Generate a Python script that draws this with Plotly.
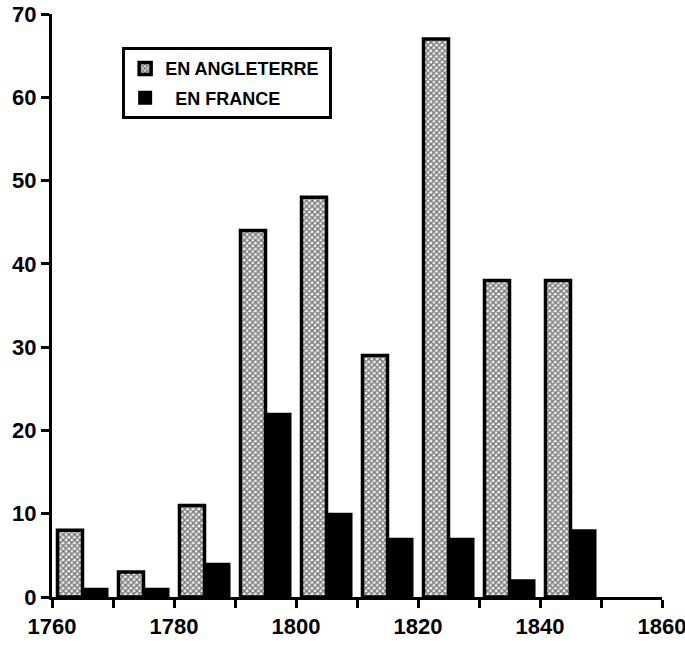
import plotly.graph_objects as go

decades = [1765, 1775, 1785, 1795, 1805, 1815, 1825, 1835, 1845]
angleterre = [8, 3, 11, 44, 48, 29, 67, 38, 38]
france = [1, 1, 4, 22, 10, 7, 7, 2, 8]
x_ticks = [1760, 1770, 1780, 1790, 1800, 1810, 1820, 1830, 1840, 1850, 1860]
x_labels = ["1760", "", "1780", "", "1800", "", "1820", "", "1840", "", "1860"]
y_ticks = [0, 10, 20, 30, 40, 50, 60, 70]

font_family = "Liberation Sans, Arial, sans-serif"

fig = go.Figure()
fig.add_trace(go.Bar(
    x=decades, y=angleterre, name="EN ANGLETERRE&nbsp;", legendgroup="a",
    marker=dict(color="#a0a0a0",
                line=dict(color="black", width=3.5),
                pattern=dict(shape="x", size=4, solidity=0.6,
                             fgcolor="#000000", bgcolor="#f0f0f0")),
))
fig.add_trace(go.Bar(
    x=decades, y=france, name="&nbsp;&nbsp;EN FRANCE", legendgroup="b",
    marker=dict(color="black", line=dict(color="black", width=2)),
))

fig.update_layout(
    width=685, height=647,
    margin=dict(l=52, r=23, t=14, b=50),
    paper_bgcolor="white", plot_bgcolor="white",
    barmode="group", bargap=0.18, bargroupgap=0,
    font=dict(family=font_family, size=18, color="black"),
    showlegend=True,
    legend=dict(x=0.115, y=0.943, xanchor="left", yanchor="top",
                bordercolor="black", borderwidth=3, bgcolor="white",
                font=dict(family=font_family, size=18, color="black", weight="bold"),
                itemwidth=30, tracegroupgap=3),
    xaxis=dict(range=[1760, 1860], tickvals=x_ticks, ticktext=x_labels,
               automargin=False, ticklabeloverflow="allow",
               showline=True, linecolor="black", linewidth=3,
               ticks="outside", ticklen=8, tickwidth=3, tickcolor="black",
               showgrid=False, zeroline=False,
               tickfont=dict(family=font_family, size=22, weight="bold")),
    yaxis=dict(range=[0, 70], tickvals=y_ticks,
               automargin=False, ticklabeloverflow="allow",
               showline=True, linecolor="black", linewidth=3,
               ticks="outside", ticklen=8, tickwidth=3, tickcolor="black",
               showgrid=False, zeroline=False,
               tickfont=dict(family=font_family, size=22, weight="bold")),
)

fig.write_html("out.html", config={"displayModeBar": False},
               post_script="document.body.style.margin='0';")
